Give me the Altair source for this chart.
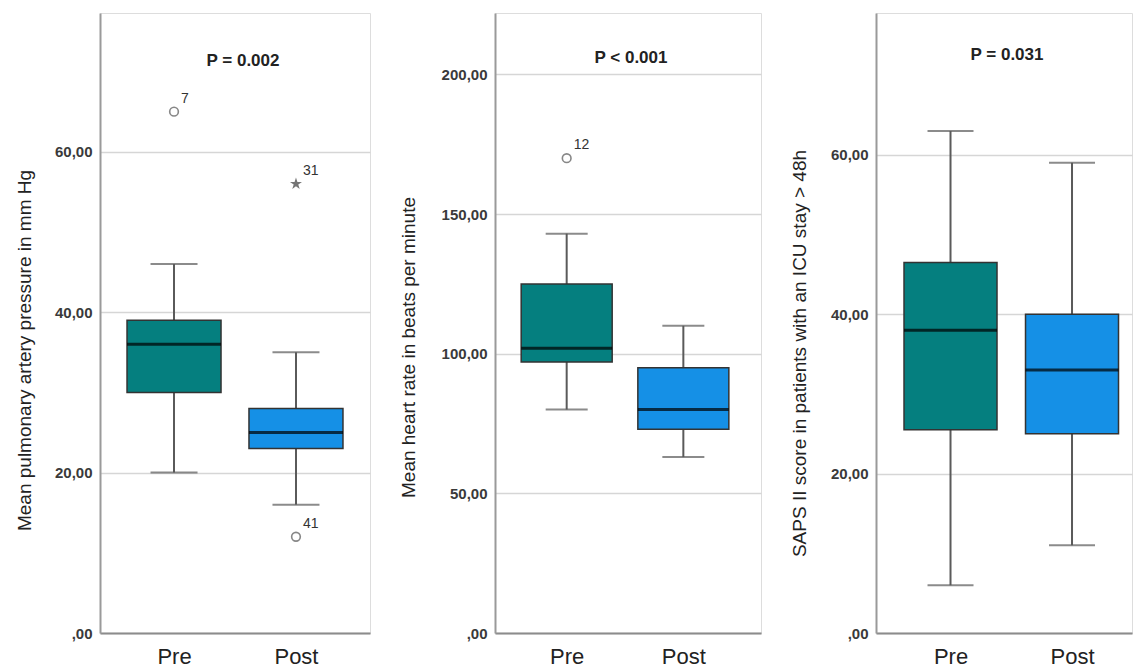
import altair as alt
import pandas as pd

groups = ["Pre", "Post"]
box_colors = ["#057F7F", "#1590E6"]

# Panel 1: mean pulmonary artery pressure (mm Hg)
p1_low = [20, 16]
p1_q1 = [30, 23]
p1_med = [36, 25]
p1_q3 = [39, 28]
p1_high = [46, 35]
p1_out_group = ["Pre", "Post", "Post"]
p1_out_value = [65, 56, 12]
p1_out_label = ["7", "31", "41"]
p1_out_kind = ["circle", "star", "circle"]

# Panel 2: mean heart rate (beats per minute)
p2_low = [80, 63]
p2_q1 = [97, 73]
p2_med = [102, 80]
p2_q3 = [125, 95]
p2_high = [143, 110]
p2_out_group = ["Pre"]
p2_out_value = [170]
p2_out_label = ["12"]
p2_out_kind = ["circle"]

# Panel 3: SAPS II score
p3_low = [6, 11]
p3_q1 = [25.5, 25]
p3_med = [38, 33]
p3_q3 = [46.5, 40]
p3_high = [63, 59]
p3_out_group = []
p3_out_value = []
p3_out_label = []
p3_out_kind = []

titles = [
    "Mean pulmonary artery pressure in mm Hg",
    "Mean heart rate in beats per minute",
    "SAPS II score in patients with an ICU stay > 48h",
]
p_texts = ["P = 0.002", "P < 0.001", "P = 0.031"]
tick_values = [[0, 20, 40, 60], [0, 50, 100, 150, 200], [0, 20, 40, 60]]

STAR = "M0,-1L0.2245,-0.309L0.951,-0.309L0.363,0.118L0.588,0.809L0,0.382L-0.588,0.809L-0.363,0.118L-0.951,-0.309L-0.2245,-0.309Z"
LABEL_EXPR = "datum.value == 0 ? ',00' : replace(format(datum.value, '.2f'), '.', ',')"


def panel(low, q1, med, q3, high, og, ov, ol, ok, title, ptext, ticks, ymax,
          width, pad, align, box, cap, ptx, pty, title_x, title_y):
    df = pd.DataFrame({"group": groups, "low": low, "q1": q1, "med": med,
                       "q3": q3, "high": high})
    out = pd.DataFrame({"group": og, "value": ov, "label": ol, "kind": ok})
    ptdf = pd.DataFrame({"t": [ptext]})

    xsc = alt.Scale(type="point", domain=groups, padding=pad, align=align)
    xax = alt.Axis(title=None, labelAngle=0, labelFontSize=22, labelFont="Liberation Sans",
                   labelColor="#222222", labelPadding=13, ticks=False, tickSize=0,
                   domainColor="#8c8c8c", domainWidth=2, grid=False)
    ysc = alt.Scale(domain=[0, ymax], nice=False, zero=True)
    yax = alt.Axis(title=title, values=ticks, labelExpr=LABEL_EXPR, ticks=False, tickSize=0,
                   labelPadding=8, labelFontSize=15, labelFontWeight="bold",
                   labelFont="Liberation Sans", labelColor="#3a3a3a",
                   domainColor="#9a9a9a", domainWidth=2, grid=True,
                   gridColor="#d6d6d6", gridWidth=1.5,
                   titleFont="Liberation Sans",
                   titleFontSize=19, titleFontWeight="normal", titleColor="#222222",
                   titleAngle=-90, titleBaseline="middle", titleAlign="center",
                   titleX=title_x, titleY=title_y)

    def X():
        return alt.X("group:N", scale=xsc, axis=xax, sort=groups)

    def Y(f):
        return alt.Y(f + ":Q", scale=ysc, axis=yax)

    base = alt.Chart(df)
    whisk = base.mark_rule(color="#5a5a5a", strokeWidth=2).encode(
        x=X(), y=Y("low"), y2="high:Q")
    cap_lo = base.mark_tick(color="#5a5a5a", thickness=2, size=cap).encode(x=X(), y=Y("low"))
    cap_hi = base.mark_tick(color="#5a5a5a", thickness=2, size=cap).encode(x=X(), y=Y("high"))
    boxes = base.mark_bar(size=box, stroke="#333333", strokeWidth=1.5).encode(
        x=X(), y=Y("q1"), y2="q3:Q",
        color=alt.Color("group:N", scale=alt.Scale(domain=groups, range=box_colors), legend=None))
    median = base.mark_tick(color="#000000", thickness=3, size=box).encode(x=X(), y=Y("med"))
    ptxt = alt.Chart(ptdf).mark_text(fontSize=17, fontWeight="bold", font="Liberation Sans",
                                     color="#222222", baseline="middle").encode(
        x=alt.value(ptx), y=alt.value(pty), text="t:N")
    layers = [whisk, cap_lo, cap_hi, boxes, median, ptxt]
    if len(og):
        oc = alt.Chart(out)
        circles = oc.transform_filter("datum.kind == 'circle'").mark_point(
            shape="circle", filled=False, size=75, color="#555555", strokeWidth=1.6).encode(
            x=X(), y=Y("value"))
        stars = oc.transform_filter("datum.kind == 'star'").mark_point(
            shape=STAR, filled=True, size=160, color="#3a3a3a", strokeWidth=0).encode(
            x=X(), y=Y("value"))
        labels = oc.mark_text(align="left", baseline="middle", dx=7, dy=-13, fontSize=14,
                              font="Liberation Sans", color="#333333").encode(
            x=X(), y=Y("value"), text="label:N")
        layers += [circles, stars, labels]
    return alt.layer(*layers).properties(width=width, height=620)


c1 = panel(p1_low, p1_q1, p1_med, p1_q3, p1_high, p1_out_group, p1_out_value, p1_out_label,
           p1_out_kind, titles[0], p_texts[0], tick_values[0], 77.3,
           270, 0.607, 0.5, 94, 47, 143, 48, -76, 337)
c2 = panel(p2_low, p2_q1, p2_med, p2_q3, p2_high, p2_out_group, p2_out_value, p2_out_label,
           p2_out_kind, titles[1], p_texts[1], tick_values[1], 222,
           266, 0.64, 0.48, 91, 42, 136, 45, -87, 334)
c3 = panel(p3_low, p3_q1, p3_med, p3_q3, p3_high, p3_out_group, p3_out_value, p3_out_label,
           p3_out_kind, titles[2], p_texts[2], tick_values[2], 77.8,
           256, 0.5535, 0.554, 93, 46, 131, 42, -77, 340)

chart = alt.hconcat(c1, c2, c3, spacing=27).properties(
    padding={"left": 6, "top": 4, "right": 0, "bottom": 0}
).configure_view(stroke=None).configure(background="white")

chart.save("out.html", embed_options={"renderer": "svg", "actions": False})
